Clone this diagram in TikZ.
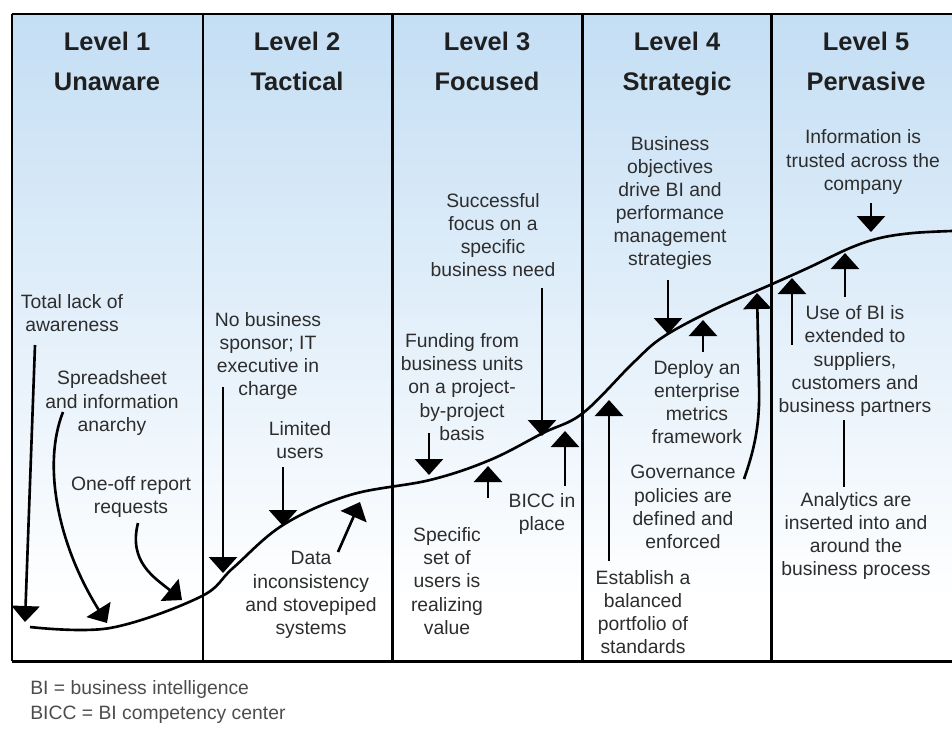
\documentclass[tikz,border=0pt]{standalone}
\usepackage{fontspec}
\setmainfont{Liberation Sans}
\usetikzlibrary{arrows.meta}

\definecolor{skytop}{RGB}{196,222,244}
\definecolor{skymid}{RGB}{222,235,248}
\definecolor{inkgray}{RGB}{45,45,45}

\tikzstyle{myarrow}=[-{Triangle[width=0.56cm,length=0.32cm]}, line width=1.5pt]
\tikzstyle{line}=[-, line width=1.5pt]
\tikzstyle{frame}=[line width=1.7pt]
\tikzstyle{title}=[align=center, inner sep=0pt, anchor=north, font=\fontsize{14.5}{22.7}\selectfont\bfseries, text=black!88]
\tikzstyle{note}=[align=center, inner sep=0pt, font=\fontsize{11}{13.2}\selectfont, text=inkgray]

\begin{document}
\begin{tikzpicture}[x=0.02cm, y=-0.02cm]
    \useasboundingbox (0,0) rectangle (952,731);
    % background and frame
    \shade[top color=skytop, middle color=skymid, bottom color=white] (12,14) rectangle (952,600);
    \draw[frame] (12,14) -- (952,14);
    \draw[frame] (12,661) -- (952,661);
    \foreach \x in {12,203,392,582,771}
        \draw[frame] (\x,14) -- (\x,661);

    % level titles
    \node (level1) at (107,32) [title] {Level 1\\Unaware};
    \node (level2) at (297,32) [title] {Level 2\\Tactical};
    \node (level3) at (487,32) [title] {Level 3\\Focused};
    \node (level4) at (677,32) [title] {Level 4\\Strategic};
    \node (level5) at (866,32) [title] {Level 5\\Pervasive};

    % maturity curve
    \draw[line] plot[smooth, tension=0.6] coordinates {(30,627) (110,628) (200,597) (233,568) (283,525) (350,495) (430,480) (490,460) (543,433) (583,413) (633,363) (663,337) (713,310) (770,285) (810,267) (850,248) (880,238) (913,233) (952,231)};

    % level 1
    \node (lack) at (72,313) [note] {Total lack of\\awareness};
    \node (anarchy) at (112,403) [note] {Spreadsheet\\and information\\anarchy};
    \node (requests) at (131,497) [note] {One-off report\\requests};
    \coordinate (lackStart) at (35,345);
    \coordinate (lackTip) at (25,622);
    \coordinate (anarchyStart) at (63,412);
    \coordinate (anarchyTip) at (107,623);
    \coordinate (requestsStart) at (138,523);
    \coordinate (requestsTip) at (182,600);
    \draw[myarrow] (lackStart) -- (lackTip);
    \draw[myarrow] (anarchyStart) .. controls (42,465) and (58,545) .. (anarchyTip);
    \draw[myarrow] (requestsStart) .. controls (128,562) and (155,578) .. (requestsTip);

    % level 2
    \node (sponsor) at (268,356) [note] {No business\\sponsor; IT\\executive in\\charge};
    \node (limited) at (300,440) [note] {Limited\\users};
    \node (dataInc) at (311,595) [note] {Data\\inconsistency\\and stovepiped\\systems};
    \coordinate (sponsorStart) at (223,387);
    \coordinate (sponsorTip) at (223,573);
    \coordinate (limitedStart) at (283,467);
    \coordinate (limitedTip) at (283,526);
    \coordinate (dataStart) at (338,552);
    \coordinate (dataTip) at (360,502);
    \draw[myarrow] (sponsorStart) -- (sponsorTip);
    \draw[myarrow] (limitedStart) -- (limitedTip);
    \draw[myarrow] (dataStart) -- (dataTip);

    % level 3
    \node (need) at (493,235) [note] {Successful\\focus on a\\specific\\business need};
    \node (funding) at (462,387) [note] {Funding from\\business units\\on a project-\\by-project\\basis};
    \node (specific) at (447,581) [note] {Specific\\set of\\users is\\realizing\\value};
    \node (bicc) at (542,514) [note] {BICC in\\place};
    \coordinate (needStart) at (542,288);
    \coordinate (needTip) at (542,436);
    \coordinate (fundingStart) at (429,433);
    \coordinate (fundingTip) at (429,475);
    \coordinate (specificStart) at (488,498);
    \coordinate (specificTip) at (488,466);
    \coordinate (biccStart) at (565,486);
    \coordinate (biccTip) at (565,431);
    \draw[myarrow] (needStart) -- (needTip);
    \draw[myarrow] (fundingStart) -- (fundingTip);
    \draw[myarrow] (specificStart) -- (specificTip);
    \draw[myarrow] (biccStart) -- (biccTip);

    % level 4
    \node (objectives) at (670,203) [note] {Business\\objectives\\drive BI and\\performance\\management\\strategies};
    \node (deploy) at (697,402) [note] {Deploy an\\enterprise\\metrics\\framework};
    \node (governance) at (683,507) [note] {Governance\\policies are\\defined and\\enforced};
    \node (establish) at (643,612) [note] {Establish a\\balanced\\portfolio of\\standards};
    \coordinate (objectivesStart) at (668,280);
    \coordinate (objectivesTip) at (668,334);
    \coordinate (deployStart) at (703,352);
    \coordinate (deployTip) at (703,320);
    \coordinate (governanceStart) at (744,479);
    \coordinate (governanceTip) at (757,293);
    \coordinate (establishStart) at (609,561);
    \coordinate (establishTip) at (609,400);
    \draw[myarrow] (objectivesStart) -- (objectivesTip);
    \draw[myarrow] (deployStart) -- (deployTip);
    \draw[myarrow] (governanceStart) .. controls (756,445) and (760,420) .. (759,385) -- (governanceTip);
    \draw[myarrow] (establishStart) -- (establishTip);

    % level 5
    \node (trusted) at (863,162) [note] {Information is\\trusted across the\\company};
    \node (extended) at (855,361) [note] {Use of BI is\\extended to\\suppliers,\\customers and\\business partners};
    \node (analytics) at (856,536) [note] {Analytics are\\inserted into and\\around the\\business process};
    \coordinate (trustedStart) at (871,203);
    \coordinate (trustedTip) at (871,232);
    \coordinate (extendedStart) at (845,297);
    \coordinate (extendedTip) at (845,253);
    \coordinate (suppliersStart) at (792,345);
    \coordinate (suppliersTip) at (792,278);
    \coordinate (analyticsTop) at (844,420);
    \coordinate (analyticsEnd) at (844,487);
    \draw[myarrow] (trustedStart) -- (trustedTip);
    \draw[myarrow] (extendedStart) -- (extendedTip);
    \draw[myarrow] (suppliersStart) -- (suppliersTip);
    \draw[line] (analyticsTop) -- (analyticsEnd);

    % legend
    \node (legendBI) at (30,689) [note, anchor=west, text=black!70] {BI = business intelligence};
    \node (legendBICC) at (30,715) [note, anchor=west, text=black!70] {BICC = BI competency center};
\end{tikzpicture}
\end{document}
